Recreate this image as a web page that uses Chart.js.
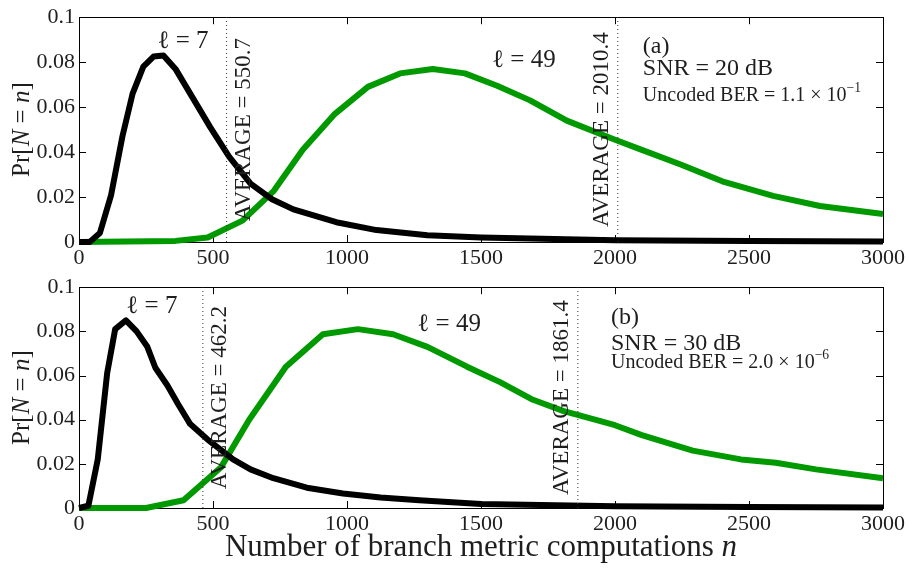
<!DOCTYPE html>
<html>
<head>
<meta charset="utf-8">
<script src="https://cdn.jsdelivr.net/npm/chart.js@4"></script>
<style>
  body { margin: 0; background: #fff; }
  #wrap { position: relative; width: 909px; height: 569px; }
  canvas { position: absolute; left: 0; }
  #top { top: 0; }
  #bot { top: 270px; }
</style>
</head>
<body>
<div id="wrap">
  <canvas id="top" width="909" height="270"></canvas>
  <canvas id="bot" width="909" height="299"></canvas>
</div>
<script>
// (a) SNR = 20 dB
const nTop7  = [0, 40, 78, 120, 162, 200, 240, 278, 315, 360, 425, 490, 560, 640, 720, 800, 960, 1110, 1300, 1500, 2000, 2500, 3000];
const prTop7 = [0, 0, 0.004, 0.021, 0.047, 0.066, 0.078, 0.0825, 0.083, 0.077, 0.064, 0.051, 0.038, 0.026, 0.019, 0.0145, 0.0088, 0.0053, 0.003, 0.002, 0.0008, 0.0004, 0.0002];
const nTop49  = [0, 360, 480, 610, 725, 835, 955, 1078, 1198, 1320, 1440, 1560, 1683, 1820, 2000, 2100, 2245, 2400, 2590, 2765, 3000];
const prTop49 = [0, 0.0005, 0.002, 0.0095, 0.0225, 0.041, 0.057, 0.069, 0.075, 0.077, 0.075, 0.0695, 0.063, 0.054, 0.0455, 0.041, 0.0345, 0.027, 0.0205, 0.016, 0.0125];
const avgTop = [550.7, 2010.4];

// (b) SNR = 30 dB
const nBot7  = [0, 35, 70, 105, 135, 175, 215, 255, 285, 330, 370, 415, 480, 575, 640, 725, 850, 985, 1125, 1270, 1500, 2000, 2500, 3000];
const prBot7 = [0, 0.001, 0.022, 0.061, 0.081, 0.085, 0.080, 0.073, 0.0635, 0.0555, 0.047, 0.038, 0.031, 0.022, 0.0175, 0.0135, 0.0092, 0.0066, 0.0048, 0.0035, 0.0018, 0.0008, 0.0004, 0.0002];
const nBot49  = [0, 250, 390, 530, 635, 772, 910, 1041, 1172, 1300, 1448, 1571, 1694, 1806, 2000, 2100, 2290, 2470, 2600, 2750, 3000];
const prBot49 = [0, 0, 0.0035, 0.0185, 0.040, 0.064, 0.0787, 0.081, 0.0787, 0.073, 0.064, 0.057, 0.049, 0.044, 0.0375, 0.033, 0.026, 0.022, 0.0205, 0.0175, 0.0135];
const avgBot = [462.2, 1861.4];

const xRange = [0, 3000];
const yRange = [0, 0.1];
const xStep = 500;
const yStep = 0.02;

const SERIF = "'Liberation Serif', 'Times New Roman', serif";
const INK = '#1e1e1e';
const GREEN = '#009a00';

const pts = (xs, ys) => xs.map((x, i) => ({ x, y: ys[i] }));

// text made of plain / italic / superscript pieces
function rich(ctx, parts, x, y, size, align) {
  const font = (s, it) => `${it ? 'italic ' : ''}${s}px ${SERIF}`;
  let w = 0;
  const m = parts.map(([t, st]) => {
    const s = st === 'sup' ? size * 0.68 : size;
    ctx.font = font(s, st === 'i');
    const wd = ctx.measureText(t).width;
    w += wd;
    return { t, st, s, wd };
  });
  let cx = align === 'center' ? x - w / 2 : align === 'right' ? x - w : x;
  ctx.textAlign = 'left';
  ctx.textBaseline = 'middle';
  for (const p of m) {
    ctx.font = font(p.s, p.st === 'i');
    ctx.fillText(p.t, cx, p.st === 'sup' ? y - size * 0.36 : y);
    cx += p.wd;
  }
}

const panelDecor = {
  id: 'panelDecor',
  beforeDatasetsDraw(chart) {
    const { ctx, chartArea: a, scales: { x, y } } = chart;
    ctx.save();
    ctx.strokeStyle = '#000';
    ctx.lineWidth = 1;
    ctx.strokeRect(Math.round(a.left) + 0.5, Math.round(a.top) + 0.5, Math.round(a.right - a.left), Math.round(a.bottom - a.top));
    // inward tick marks on all four sides
    ctx.beginPath();
    x.ticks.forEach(t => {
      const px = Math.round(x.getPixelForValue(t.value)) + 0.5;
      ctx.moveTo(px, a.bottom); ctx.lineTo(px, a.bottom - 7);
      ctx.moveTo(px, a.top); ctx.lineTo(px, a.top + 7);
    });
    y.ticks.forEach(t => {
      const py = Math.round(y.getPixelForValue(t.value)) + 0.5;
      ctx.moveTo(a.left, py); ctx.lineTo(a.left + 7, py);
      ctx.moveTo(a.right, py); ctx.lineTo(a.right - 7, py);
    });
    ctx.stroke();
    ctx.restore();
  },
  afterDatasetsDraw(chart, args, o) {
    const { ctx, chartArea: a, scales: { x, y } } = chart;
    ctx.save();
    ctx.fillStyle = INK;

    // averages, written along the dotted lines
    o.averages.forEach((v, i) => {
      const px = x.getPixelForValue(v) + (o.sides[i] > 0 ? 23 : -10);
      ctx.save();
      ctx.translate(px, (a.top + a.bottom) / 2);
      ctx.rotate(-Math.PI / 2);
      ctx.font = `23px ${SERIF}`;
      ctx.textAlign = 'center';
      ctx.textBaseline = 'alphabetic';
      ctx.fillText(`AVERAGE = ${v.toFixed(1)}`, 0, 0);
      ctx.restore();
    });

    o.notes.forEach(n => {
      rich(ctx, n.parts, x.getPixelForValue(n.x), y.getPixelForValue(n.y), n.size, n.align);
    });

    // y title
    ctx.save();
    ctx.translate(22, (a.top + a.bottom) / 2);
    ctx.rotate(-Math.PI / 2);
    rich(ctx, [['Pr[', ''], ['N', 'i'], [' = ', ''], ['n', 'i'], [']', '']], 0, 0, 25, 'center');
    ctx.restore();

    if (o.xTitle) {
      rich(ctx, [['Number of branch metric computations ', ''], ['n', 'i']], (a.left + a.right) / 2, a.bottom + 40, 31, 'center');
    }
    ctx.restore();
  }
};

function panel(id, d) {
  const avgLine = v => ({
    data: [{ x: v, y: yRange[0] }, { x: v, y: yRange[1] }],
    borderColor: '#333',
    borderWidth: 1,
    borderDash: [1, 3],
    pointRadius: 0
  });
  return new Chart(document.getElementById(id), {
    type: 'line',
    data: {
      datasets: [
        ...d.avg.map(avgLine),
        { data: pts(d.n7, d.p7), borderColor: '#000', borderWidth: 6, pointRadius: 0, tension: 0, borderJoinStyle: 'round', clip: 5 },
        { data: pts(d.n49, d.p49), borderColor: GREEN, borderWidth: 6, pointRadius: 0, tension: 0, borderJoinStyle: 'round', clip: 5 }
      ]
    },
    options: {
      responsive: false,
      animation: false,
      layout: { padding: { top: d.padTop, right: 26, left: 0, bottom: 0 } },
      plugins: {
        legend: { display: false },
        tooltip: { enabled: false },
        panelDecor: { averages: d.avg, sides: [1, -1], notes: d.notes, xTitle: d.xTitle }
      },
      scales: {
        x: {
          type: 'linear', min: xRange[0], max: xRange[1],
          ticks: { stepSize: xStep, padding: 3, color: INK, font: { family: SERIF, size: 22 }, maxRotation: 0,
                   callback: v => String(v) },
          grid: { display: false, drawTicks: false, tickLength: 0 },
          border: { display: false },
          afterFit: s => { s.height = d.xHeight; }
        },
        y: {
          min: yRange[0], max: yRange[1],
          ticks: { stepSize: yStep, padding: 4, color: INK, font: { family: SERIF, size: 22 },
                   callback: v => String(+v.toFixed(2)) },
          grid: { display: false, drawTicks: false, tickLength: 0 },
          border: { display: false },
          afterFit: s => { s.width = 79; }
        }
      }
    },
    plugins: [panelDecor]
  });
}

const ell = k => [['ℓ', ''], [` = ${k}`, '']];

panel('top', {
  n7: nTop7, p7: prTop7, n49: nTop49, p49: prTop49, avg: avgTop,
  padTop: 13, xHeight: 28, xTitle: false,
  notes: [
    { x: 388, y: 0.0891, parts: ell(7), size: 25, align: 'center' },
    { x: 1660, y: 0.0808, parts: ell(49), size: 25, align: 'center' },
    { x: 2104, y: 0.0869, parts: [['(a)', '']], size: 24, align: 'left' },
    { x: 2104, y: 0.0773, parts: [['SNR = 20 dB', '']], size: 24, align: 'left' },
    { x: 2104, y: 0.0651, parts: [['Uncoded BER = 1.1 × 10', ''], ['−1', 'sup']], size: 20, align: 'left' }
  ]
});

panel('bot', {
  n7: nBot7, p7: prBot7, n49: nBot49, p49: prBot49, avg: avgBot,
  padTop: 8, xHeight: 61, xTitle: true,
  notes: [
    { x: 272, y: 0.0913, parts: ell(7), size: 25, align: 'center' },
    { x: 1381, y: 0.083, parts: ell(49), size: 25, align: 'center' },
    { x: 1985, y: 0.0861, parts: [['(b)', '']], size: 24, align: 'left' },
    { x: 1985, y: 0.0743, parts: [['SNR = 30 dB', '']], size: 24, align: 'left' },
    { x: 1985, y: 0.0657, parts: [['Uncoded BER = 2.0 × 10', ''], ['−6', 'sup']], size: 20, align: 'left' }
  ]
});
</script>
</body>
</html>
